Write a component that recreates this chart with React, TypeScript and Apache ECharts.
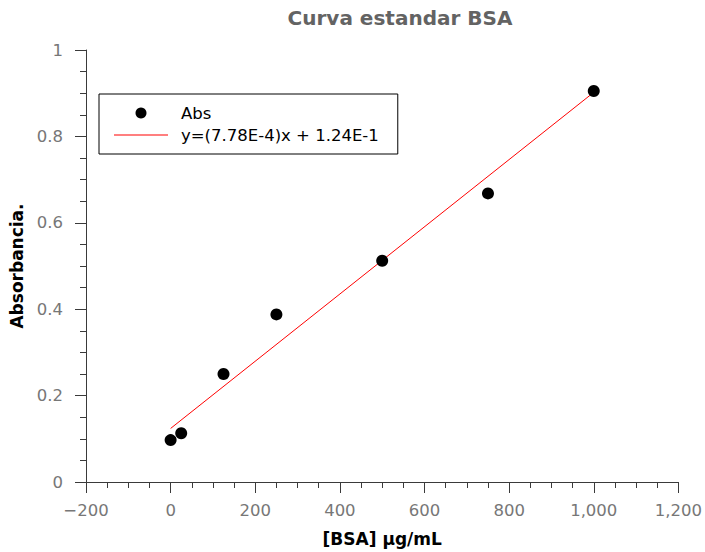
import React, { useEffect, useRef } from "react";
import * as echarts from "echarts";

// BSA standard concentrations (µg/mL) and measured absorbance
const concentrations = [0, 25, 125, 250, 500, 750, 1000];
const absorbance = [0.097, 0.113, 0.25, 0.388, 0.512, 0.668, 0.905];

// Linear fit reported in the legend
const fitSlope = 7.78e-4;
const fitIntercept = 1.24e-1;
const fitRange = [0, 1000];

const xTicks = [-200, 0, 200, 400, 600, 800, 1000, 1200];
const yTicks = [0, 0.2, 0.4, 0.6, 0.8, 1];

const titleText = "Curva estandar BSA";
const xName = "[BSA] μg/mL";
const yName = "Absorbancia.";
const dataName = "Abs";
const fitName = "y=(7.78E-4)x + 1.24E-1";

const FONT = "DejaVu Sans";
const AXIS_COLOR = "#3a3a3a";

function fmtX(v: number): string {
  const s = Math.abs(v).toLocaleString("en-US");
  return v < 0 ? "\u2212" + s : s;
}

export default function App() {
  const ref = useRef<HTMLDivElement>(null);

  useEffect(() => {
    if (!ref.current) return;
    const chart = echarts.init(ref.current, undefined, { renderer: "svg" });

    const points = concentrations.map((c, i) => [c, absorbance[i]]);
    const fitLine = fitRange.map((x) => [x, fitIntercept + fitSlope * x]);

    const axisCommon = {
      axisTick: { show: true, inside: false, length: 11, lineStyle: { color: AXIS_COLOR } },
      minorTick: { show: true, splitNumber: 4, length: 6, lineStyle: { color: AXIS_COLOR } },
      splitLine: { show: false },
      minorSplitLine: { show: false },
    };

    chart.setOption({
      animation: false,
      backgroundColor: "#ffffff",
      title: {
        text: titleText,
        left: 395,
        top: 3,
        textAlign: "center",
        textStyle: { fontFamily: FONT, fontSize: 20, fontWeight: "bold", color: "#636363" },
      },
      legend: {
        orient: "vertical",
        left: 99,
        top: 94,
        borderColor: "#000",
        borderWidth: 1,
        padding: [10, 19, 10, 15],
        itemWidth: 54,
        itemHeight: 11,
        itemGap: 4,
        data: [
          { name: dataName, icon: "circle" },
          { name: fitName, icon: "path://M0,0 L54,0 L54,1 L0,1 Z" },
        ],
        textStyle: {
          fontFamily: FONT,
          fontSize: 16.5,
          lineHeight: 18,
          color: "#000",
          padding: [0, 0, 0, 8],
        },
      },
      grid: { left: 86, right: 22, top: 50, bottom: 69, containLabel: false },
      xAxis: {
        type: "value",
        min: xTicks[0],
        max: xTicks[xTicks.length - 1],
        interval: 200,
        name: xName,
        nameLocation: "middle",
        nameGap: 48,
        nameTextStyle: { fontFamily: FONT, fontSize: 17, fontWeight: "bold", color: "#000" },
        axisLine: { show: true, onZero: false, lineStyle: { color: AXIS_COLOR, width: 1 } },
        axisLabel: {
          fontFamily: FONT,
          fontSize: 16.5,
          color: "#777",
          margin: 20,
          formatter: (v: number) => fmtX(v),
        },
        ...axisCommon,
      },
      yAxis: {
        type: "value",
        min: yTicks[0],
        max: yTicks[yTicks.length - 1],
        interval: 0.2,
        name: yName,
        nameLocation: "middle",
        nameGap: 50,
        nameTextStyle: { fontFamily: FONT, fontSize: 17, fontWeight: "bold", color: "#000" },
        axisLine: { show: true, onZero: false, lineStyle: { color: AXIS_COLOR, width: 1 } },
        axisLabel: {
          fontFamily: FONT,
          fontSize: 16.5,
          color: "#777",
          margin: 23,
        },
        ...axisCommon,
      },
      series: [
        {
          name: dataName,
          type: "scatter",
          data: points,
          symbol: "circle",
          symbolSize: 12,
          itemStyle: { color: "#000", opacity: 1 },
          z: 3,
        },
        {
          name: fitName,
          type: "line",
          data: fitLine,
          showSymbol: false,
          symbol: "none",
          lineStyle: { color: "#ff0000", width: 1 },
          itemStyle: { color: "#ff0000" },
          z: 2,
        },
      ],
    });

    return () => chart.dispose();
  }, []);

  return (
    <div
      ref={ref}
      style={{ position: "absolute", left: 0, top: 0, width: 705, height: 552 }}
    />
  );
}
